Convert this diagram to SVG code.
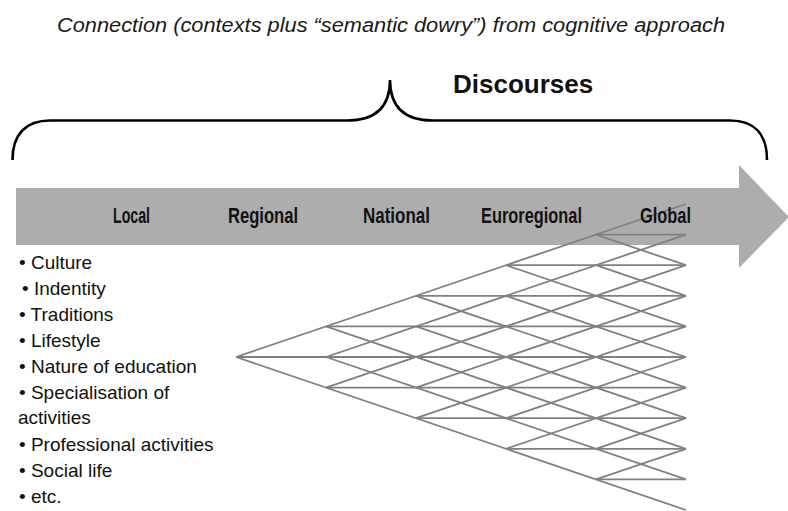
<svg xmlns="http://www.w3.org/2000/svg" width="788" height="511" viewBox="0 0 788 511">
  <style>
    .title { font-family: "Liberation Sans", Arial, sans-serif; font-style: italic; font-size: 20px; fill: #1a1a1a; }
    .head { font-family: "Liberation Sans", Arial, sans-serif; font-weight: bold; font-size: 26px; fill: #111; }
    .scale { font-family: "Liberation Sans", Arial, sans-serif; font-weight: bold; font-size: 22px; fill: #111; }
    .item { font-family: "Liberation Sans", Arial, sans-serif; font-size: 19px; fill: #111; }
    .brace { fill: none; stroke: #000; stroke-width: 2.6; stroke-linecap: butt; }
    .band { fill: #adadad; }
    .net line { stroke: #808080; stroke-width: 1.8; }
  </style>

  <!-- heading line -->
  <g id="title">
    <text class="title" x="391" y="32" text-anchor="middle" textLength="668" lengthAdjust="spacingAndGlyphs">Connection (contexts plus “semantic dowry”) from cognitive approach</text>
  </g>

  <!-- curly brace spanning the scale -->
  <g id="brace">
    <path class="brace" d="M12.5,160 C12.5,134 26,120.5 50,120.5 L347,120.5 C377,120.5 390,106 390,80 C390,106 403,120.5 433,120.5 L730,120.5 C754,120.5 767,134 767,160"/>
  </g>
  <g id="discourses">
    <text class="head" x="453" y="93">Discourses</text>
  </g>

  <!-- broad arrow carrying the scale labels -->
  <g id="arrow">
    <path class="band" d="M16,188 L739,188 L739,165 L789,217 L739,268 L739,245 L16,245 Z"/>
  </g>

  <!-- widening lattice: columns every 90px, rows every 30.6px around y=357 -->
  <g id="connectors" class="net">
    <!-- ascending strands -->
    <line x1="236" y1="357" x2="686" y2="204"/>
    <line x1="326" y1="357" x2="686" y2="234.6"/>
    <line x1="326" y1="387.6" x2="686" y2="265.2"/>
    <line x1="416" y1="387.6" x2="686" y2="295.8"/>
    <line x1="416" y1="418.2" x2="686" y2="326.4"/>
    <line x1="506" y1="418.2" x2="686" y2="357"/>
    <line x1="506" y1="448.8" x2="686" y2="387.6"/>
    <line x1="596" y1="448.8" x2="686" y2="418.2"/>
    <line x1="596" y1="479.4" x2="686" y2="448.8"/>
    <!-- descending strands -->
    <line x1="236" y1="357" x2="686" y2="510"/>
    <line x1="326" y1="357" x2="686" y2="479.4"/>
    <line x1="326" y1="326.4" x2="686" y2="448.8"/>
    <line x1="416" y1="326.4" x2="686" y2="418.2"/>
    <line x1="416" y1="295.8" x2="686" y2="387.6"/>
    <line x1="506" y1="295.8" x2="686" y2="357"/>
    <line x1="506" y1="265.2" x2="686" y2="326.4"/>
    <line x1="596" y1="265.2" x2="686" y2="295.8"/>
    <line x1="596" y1="234.6" x2="686" y2="265.2"/>
    <!-- horizontal rungs -->
    <line x1="596" y1="234.6" x2="686" y2="234.6"/>
    <line x1="506" y1="265.2" x2="686" y2="265.2"/>
    <line x1="416" y1="295.8" x2="686" y2="295.8"/>
    <line x1="326" y1="326.4" x2="686" y2="326.4"/>
    <line x1="236" y1="357" x2="686" y2="357"/>
    <line x1="326" y1="387.6" x2="686" y2="387.6"/>
    <line x1="416" y1="418.2" x2="686" y2="418.2"/>
    <line x1="506" y1="448.8" x2="686" y2="448.8"/>
    <line x1="596" y1="479.4" x2="686" y2="479.4"/>
  </g>

  <!-- scale labels -->
  <g id="local"><text class="scale" x="113" y="223" textLength="37" lengthAdjust="spacingAndGlyphs">Local</text></g>
  <g id="regional"><text class="scale" x="228" y="223" textLength="70" lengthAdjust="spacingAndGlyphs">Regional</text></g>
  <g id="national"><text class="scale" x="363" y="223" textLength="67" lengthAdjust="spacingAndGlyphs">National</text></g>
  <g id="euroregional"><text class="scale" x="481" y="223" textLength="101" lengthAdjust="spacingAndGlyphs">Euroregional</text></g>
  <g id="global"><text class="scale" x="640" y="223" textLength="51" lengthAdjust="spacingAndGlyphs">Global</text></g>

  <!-- list of local features -->
  <g id="features">
    <text class="item" x="19" y="269">• Culture</text>
    <text class="item" x="22" y="295">• Indentity</text>
    <text class="item" x="19" y="321">• Traditions</text>
    <text class="item" x="19" y="347">• Lifestyle</text>
    <text class="item" x="19" y="373">• Nature of education</text>
    <text class="item" x="19" y="399">• Specialisation of</text>
    <text class="item" x="18" y="424">activities</text>
    <text class="item" x="19" y="451">• Professional activities</text>
    <text class="item" x="19" y="477">• Social life</text>
    <text class="item" x="19" y="503">• etc.</text>
  </g>
</svg>
